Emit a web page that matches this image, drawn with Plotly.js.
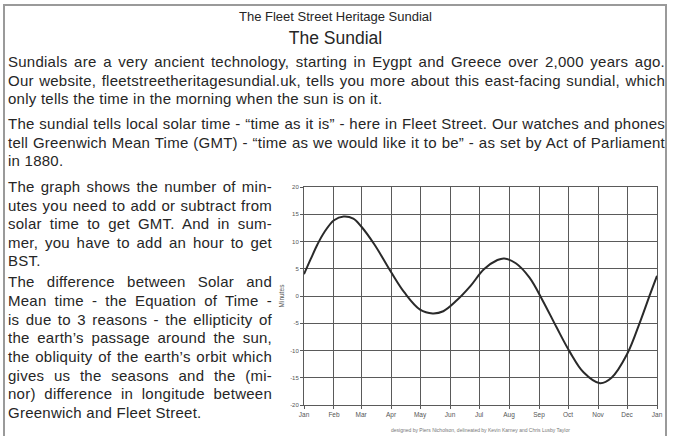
<!DOCTYPE html>
<html>
<head>
<meta charset="utf-8">
<script src="https://cdn.plot.ly/plotly-3.0.1.min.js"></script>
<style>
html,body{margin:0;padding:0;background:#fff;width:675px;height:436px;overflow:hidden;}
#frame{position:absolute;left:3px;top:4px;width:664px;height:440px;border:2px solid #9a9a9a;box-sizing:border-box;}
.t{position:absolute;font-family:"Liberation Sans",Arial,sans-serif;color:#262626;white-space:nowrap;font-size:15px;letter-spacing:0.25px;}
.j{text-align:justify;text-align-last:justify;}
.c{text-align:center;letter-spacing:0;}
#chart{position:absolute;left:270px;top:178px;width:400px;height:258px;}
</style>
</head>
<body>
<div id="frame"></div>
<div id="text"></div>
<div id="chart"></div>
<script>
// ---- text content ----
var heading = "The Fleet Street Heritage Sundial";
var title = "The Sundial";
var topLines = [
  ["Sundials are a very ancient technology, starting in Eygpt and Greece over 2,000 years ago.", true],
  ["Our website, fleetstreetheritagesundial.uk, tells you more about this east-facing sundial, which", true],
  ["only tells the time in the morning when the sun is on it.", false],
  ["The sundial tells local solar time - \u201ctime as it is\u201d - here in Fleet Street. Our watches and phones", true],
  ["tell Greenwich Mean Time (GMT) - \u201ctime as we would like it to be\u201d - as set by Act of Parliament", true],
  ["in 1880.", false]
];
var topCenters = [62, 81, 99, 124, 143, 161];
var leftLines = [
  ["The graph shows the number of min-", true],
  ["utes you need to add or subtract from", true],
  ["solar time to get GMT. And in sum-", true],
  ["mer, you have to add an hour to get", true],
  ["BST.", false],
  ["The difference between Solar and", true],
  ["Mean time - the Equation of Time -", true],
  ["is due to 3 reasons - the ellipticity of", true],
  ["the earth\u2019s passage around the sun,", true],
  ["the obliquity of the earth\u2019s orbit which", true],
  ["gives us the seasons and the (mi-", true],
  ["nor) difference in longitude between", true],
  ["Greenwich and Fleet Street.", false]
];
var leftCenters = [187, 206, 224, 243, 261, 282, 301, 320, 338, 357, 376, 394, 413];
var credit = "designed by Piers Nicholson, delineated by Kevin Karney and Chris Lusby Taylor";

// ---- chart data (Equation of Time, minutes to add to sundial time) ----
var dates = ["2023-01-01","2023-01-08","2023-01-15","2023-01-22","2023-02-01","2023-02-11","2023-02-21",
  "2023-03-01","2023-03-15","2023-04-01","2023-04-15","2023-05-01","2023-05-14","2023-05-25",
  "2023-06-08","2023-06-22","2023-07-06","2023-07-20","2023-07-27","2023-08-08","2023-08-22",
  "2023-09-05","2023-09-19","2023-10-03","2023-10-17","2023-11-03","2023-11-15","2023-12-01",
  "2023-12-15","2023-12-25","2024-01-01"];
var minutes = [4.0, 6.8, 9.5, 11.7, 13.9, 14.6, 14.2,
  12.8, 9.4, 4.4, 0.6, -2.5, -3.2, -2.8,
  -0.8, 1.8, 4.9, 6.6, 6.9, 6.0, 3.4,
  -0.9, -5.7, -10.3, -14.0, -16.0, -15.0, -10.7,
  -4.5, 0.4, 3.7];
var monthLabels = ["Jan","Feb","Mar","Apr","May","Jun","Jul","Aug","Sep","Oct","Nov","Dec","Jan"];
var monthStarts = ["2023-01-01","2023-02-01","2023-03-01","2023-04-01","2023-05-01","2023-06-01",
  "2023-07-01","2023-08-01","2023-09-01","2023-10-01","2023-11-01","2023-12-01","2024-01-01"];
var yTicks = [20, 15, 10, 5, 0, -5, -10, -15, -20];
var yTickText = ["20","15","10","5","0","-5","-10","-15","-20"];

// ---- build text ----
var host = document.getElementById("text");
function addLine(txt, left, width, center, cls, size) {
  var d = document.createElement("div");
  d.className = "t " + cls;
  d.style.left = left + "px";
  d.style.width = width + "px";
  var lh = 18;
  d.style.top = (center - lh / 2) + "px";
  d.style.lineHeight = lh + "px";
  d.style.height = lh + "px";
  if (size) d.style.fontSize = size + "px";
  d.textContent = txt;
  host.appendChild(d);
}
addLine(heading, 3, 665, 17, "c", 13);
addLine(title, 3, 665, 38, "c", 17.5);
topLines.forEach(function (l, i) { addLine(l[0], 8, 657, topCenters[i], l[1] ? "j" : ""); });
leftLines.forEach(function (l, i) { addLine(l[0], 8, 264, leftCenters[i], l[1] ? "j" : ""); });

// ---- chart ----
var grid = "#5a5a5a";
Plotly.newPlot("chart", [{
  x: dates, y: minutes, type: "scatter", mode: "lines",
  line: {color: "#2a2a2a", width: 2, shape: "spline", smoothing: 1},
  hoverinfo: "skip"
}], {
  width: 400, height: 258,
  margin: {l: 34, r: 13, t: 9, b: 31, pad: 0},
  paper_bgcolor: "rgba(0,0,0,0)", plot_bgcolor: "#fff",
  showlegend: false,
  font: {family: "Liberation Sans, Arial, sans-serif", color: "#555"},
  xaxis: {
    type: "date", range: ["2023-01-01", "2024-01-01"],
    tickmode: "array", tickvals: monthStarts, ticktext: monthLabels,
    showgrid: true, gridcolor: grid, gridwidth: 1,
    showline: true, linecolor: grid, linewidth: 1, mirror: true,
    ticks: "outside", ticklen: 3, tickcolor: grid,
    tickfont: {size: 6.5, color: "#555"}, zeroline: false
  },
  yaxis: {
    range: [-20, 20], tickmode: "array", tickvals: yTicks, ticktext: yTickText,
    showgrid: true, gridcolor: grid, gridwidth: 1,
    showline: true, linecolor: grid, linewidth: 1, mirror: true,
    ticks: "outside", ticklen: 3, tickcolor: grid,
    tickfont: {size: 6, color: "#555"}, zeroline: false,
    title: {text: "Minutes", font: {size: 6.5, color: "#555"}, standoff: 4}
  },
  annotations: [{
    xref: "paper", yref: "paper", x: 0.5, y: -0.115, yanchor: "middle", xanchor: "center",
    text: credit, showarrow: false, font: {size: 5, color: "#777"}
  }]
}, {displayModeBar: false, staticPlot: true});
</script>
</body>
</html>
